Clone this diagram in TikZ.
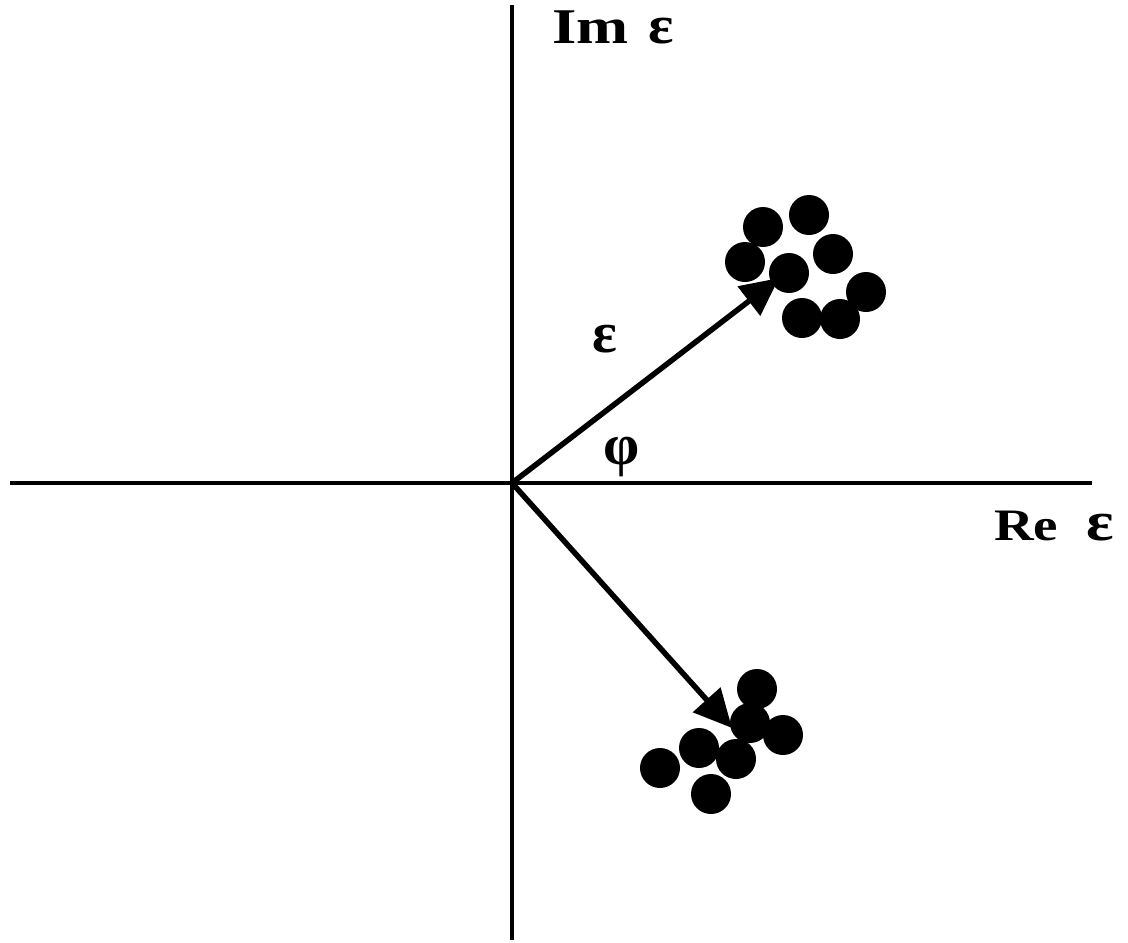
\documentclass[tikz,border=0pt]{standalone}
\usepackage{fontspec}
\setmainfont{Liberation Serif}
\usetikzlibrary{arrows.meta}
\tikzset{
  axis/.style={line width=3.5pt},
  vec/.style={line width=5.5pt,-{Triangle[length=38pt,width=36pt]}},
  dot/.style={circle,fill=black,inner sep=0pt,minimum size=40pt},
  lbl/.style={font=\bfseries,inner sep=0pt,anchor=base west},
  greek/.style={font=\bfseries\fontsize{58}{64}\selectfont,inner sep=0pt}
}
\begin{document}
\begin{tikzpicture}[x=1pt,y=-1pt]
\useasboundingbox (0,0) rectangle (1128,943);
\coordinate (O) at (512,483);
\coordinate (xl) at (10,483);
\coordinate (xr) at (1092,483);
\coordinate (yt) at (512,5);
\coordinate (yb) at (512,940);
\draw[axis] (xl) -- (xr);
\draw[axis] (yt) -- (yb);
% upper cluster
\node[dot] (u1) at (763,227) {};
\node[dot] (u2) at (809,215) {};
\node[dot] (u3) at (833,254) {};
\node[dot] (u4) at (745,262) {};
\node[dot] (u5) at (789,273) {};
\node[dot] (u6) at (866,292) {};
\node[dot] (u7) at (802,318) {};
\node[dot] (u8) at (840,319) {};
% lower cluster
\node[dot] (l1) at (757,689) {};
\node[dot] (l2) at (750,723) {};
\node[dot] (l3) at (783,735) {};
\node[dot] (l4) at (699,748) {};
\node[dot] (l5) at (736,759) {};
\node[dot] (l6) at (660,768) {};
\node[dot] (l7) at (711,794) {};
\coordinate (ut) at (779,278);
\coordinate (lt) at (732,728);
\draw[vec] (O) -- (ut);
\draw[vec] (O) -- (lt);
\node[lbl] (im) at (552,43) {\fontsize{50}{56}\selectfont\scalebox{1.25}[1]{Im}\hspace{20pt}{\fontsize{54}{60}\selectfont\scalebox{1.1}[1]{ε}}};
\node[lbl] (re) at (994,540) {\fontsize{45}{52}\selectfont\scalebox{1.22}[1]{Re}\hspace{28pt}{\fontsize{56}{62}\selectfont\scalebox{1.15}[1]{ε}}};
\node[greek] (eps) at (605,339) {ε};
\node[greek] (phi) at (622,457) {φ};
\end{tikzpicture}
\end{document}
